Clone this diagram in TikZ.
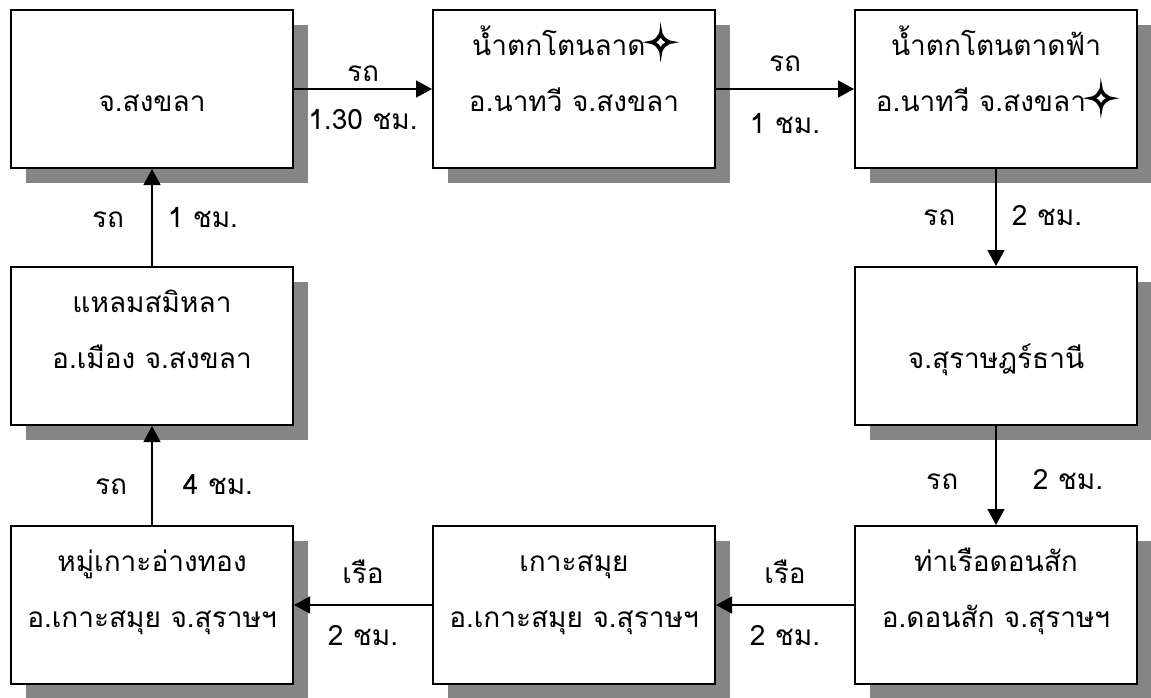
\documentclass[tikz,border=0pt]{standalone}
\usepackage{fontspec}
\usetikzlibrary{arrows.meta,positioning,shadows}
\newfontfamily\thaifont[Script=Thai]{Loma}
\newfontfamily\symfont[FakeBold=5]{DejaVu Sans}
\newcommand{\sparkle}{{\symfont\fontsize{18}{28}\selectfont ✧}}

\begin{document}
\begin{tikzpicture}[x=0.5pt,y=-0.5pt,>={Triangle[length=8pt,width=8.5pt]},
  font=\thaifont\fontsize{14}{28}\selectfont]
\useasboundingbox (0,0) rectangle (1151,697);
\tikzset{place/.style={draw,line width=1pt,fill=white,inner sep=0pt,
    minimum width=141pt,minimum height=79pt,
    drop shadow={shadow xshift=7.5pt,shadow yshift=-7.5pt,fill=black!48,opacity=1}},
  placetext/.style={align=center,inner sep=0pt},
  route/.style={->,line width=0.8pt},
  way/.style={anchor=base,inner sep=0pt}}

% Places
\node[place] (songkhla) at (152,89) {};
\node[place] (tonlad) at (574,89) {};
\node[place] (tontadfa) at (996,89) {};
\node[place] (samila) at (152,346) {};
\node[place] (surat) at (996,346) {};
\node[place] (angthong) at (152,605) {};
\node[place] (samui) at (574,605) {};
\node[place] (donsak) at (996,605) {};

\node[placetext,below=31.4pt of songkhla.north] (songkhla-t) {\strut จ.สงขลา};
\node[placetext,below=3.4pt of tonlad.north] (tonlad-t)
  {\strut น้ำตกโตนลาด\sparkle\\\strut อ.นาทวี จ.สงขลา};
\node[placetext,below=3.4pt of tontadfa.north] (tontadfa-t)
  {\strut น้ำตกโตนตาดฟ้า\\\strut อ.นาทวี จ.สงขลา\sparkle};
\node[placetext,below=3.4pt of samila.north] (samila-t)
  {\strut แหลมสมิหลา\\\strut อ.เมือง จ.สงขลา};
\node[placetext,below=31.4pt of surat.north] (surat-t) {\strut จ.สุราษฎร์ธานี};
\node[placetext,below=3.4pt of angthong.north] (angthong-t)
  {\strut หมู่เกาะอ่างทอง\\\strut อ.เกาะสมุย จ.สุราษฯ};
\node[placetext,below=3.4pt of samui.north] (samui-t)
  {\strut เกาะสมุย\\\strut อ.เกาะสมุย จ.สุราษฯ};
\node[placetext,below=3.4pt of donsak.north] (donsak-t)
  {\strut ท่าเรือดอนสัก\\\strut อ.ดอนสัก จ.สุราษฯ};

% Routes
\draw[route] (songkhla) -- (tonlad)
  node[way,midway,yshift=4pt] (r1a) {รถ}
  node[way,midway,yshift=-20pt] (r1b) {1.30 ชม.};
\draw[route] (tonlad) -- (tontadfa)
  node[way,midway,yshift=9pt] (r2a) {รถ}
  node[way,midway,yshift=-22pt] (r2b) {1 ชม.};
\draw[route] (tontadfa) -- (surat)
  node[way,pos=.58,anchor=base east,xshift=-20pt] (r3a) {รถ}
  node[way,pos=.58,anchor=base west,xshift=7.5pt] (r3b) {2 ชม.};
\draw[route] (surat) -- (donsak)
  node[way,pos=.64,anchor=base east,xshift=-18.5pt] (r4a) {รถ}
  node[way,pos=.64,anchor=base west,xshift=18pt] (r4b) {2 ชม.};
\draw[route] (donsak) -- (samui)
  node[way,midway,yshift=11pt] (r5a) {เรือ}
  node[way,midway,yshift=-20pt] (r5b) {2 ชม.};
\draw[route] (samui) -- (angthong)
  node[way,midway,yshift=11pt] (r6a) {เรือ}
  node[way,midway,yshift=-20pt] (r6b) {2 ชม.};
\draw[route] (angthong) -- (samila)
  node[way,pos=.31,anchor=base east,xshift=-12pt] (r7a) {รถ}
  node[way,pos=.31,anchor=base west,xshift=15pt] (r7b) {4 ชม.};
\draw[route] (samila) -- (songkhla)
  node[way,pos=.40,anchor=base east,xshift=-13.5pt] (r8a) {รถ}
  node[way,pos=.40,anchor=base west,xshift=7.5pt] (r8b) {1 ชม.};
\end{tikzpicture}
\end{document}
